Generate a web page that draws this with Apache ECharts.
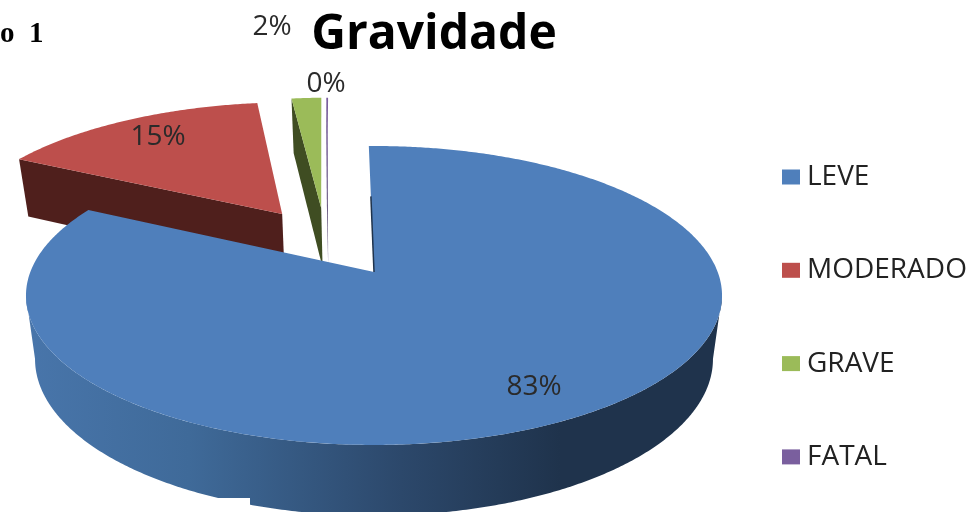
<!DOCTYPE html>
<html>
<head>
<meta charset="utf-8">
<title>Gravidade</title>
<script src="https://cdn.jsdelivr.net/npm/echarts@6/dist/echarts.min.js"></script>
<style>
  html, body { margin: 0; padding: 0; background: #fff; }
  #chart { width: 971px; height: 512px; }
</style>
</head>
<body>
<div id="chart"></div>
<script>
const categories = ['LEVE', 'MODERADO', 'GRAVE', 'FATAL'];
const values = [82.8, 15.4, 1.7, 0.1];
const percentLabels = ['83%', '15%', '2%', '0%'];

const topColors = ['#4f7fbb', '#bd4f4c', '#9bbb59', '#7a5f9e'];
const wallColors = ['#1f334c', '#4f1f1c', '#3f4d22', '#5b4a75'];

// layout of the tilted pie
const CX = 374, CY = 272;
const SCALE_X = 343.7, SCALE_Y = 145.8, PERSPECTIVE = 0.157;
const START_ANGLE = -1;
const BASE_SHRINK = 0.974;
const explodeX = [0, -0.285, -0.165, -0.147];
const explodeY = [0, 0.425, 0.4715, 0.4715];
const labelPos = [[534, 387], [158, 137], [272, 27], [326, 84]];

const total = values.reduce((a, b) => a + b, 0);

// flat pie coordinates -> top face pixels
function project(x, y) {
  const w = 1 + PERSPECTIVE * y;
  return [CX + SCALE_X * x / w, CY - SCALE_Y * y / w];
}

// top face pixel -> bottom face pixel of the extrusion
function dropDown(p) {
  return [CX + (p[0] - CX) * BASE_SHRINK, 359 + (p[1] - 295.4) * 1.047];
}

function sliceRange(i) {
  let before = 0;
  for (let k = 0; k < i; k++) before += values[k];
  const a0 = START_ANGLE + before / total * 360;
  return [a0, a0 + values[i] / total * 360];
}

function rimPoint(i, deg) {
  const r = deg * Math.PI / 180;
  return project(explodeX[i] + Math.sin(r), explodeY[i] + Math.cos(r));
}

function arcPoints(i, a0, a1) {
  const pts = [];
  const steps = Math.max(2, Math.ceil((a1 - a0) * 2));
  for (let s = 0; s <= steps; s++) pts.push(rimPoint(i, a0 + (a1 - a0) * s / steps));
  return pts;
}

function polygon(points, fill) {
  return { type: 'polygon', shape: { points }, style: { fill }, silent: true };
}

function renderSlice(params) {
  const i = params.seriesIndex;
  const range = sliceRange(i);
  const apex = project(explodeX[i], explodeY[i]);
  const rim = arcPoints(i, range[0], range[1]);
  const children = [];

  if (i === 0) {
    // curved outer wall, only between the widest points of the ellipse
    const side = Math.acos(-PERSPECTIVE) * 180 / Math.PI;
    const front = arcPoints(0, side, 360 - side);
    const wallFill = {
      type: 'linear', global: true, x: 30, y: 0, x2: 560, y2: 0,
      colorStops: [
        { offset: 0, color: '#4875aa' },
        { offset: 0.3, color: '#3f6a99' },
        { offset: 0.7, color: '#2c486b' },
        { offset: 1, color: wallColors[0] }
      ]
    };
    children.push(polygon(front.concat(front.map(dropDown).reverse()), wallFill));
  } else {
    // flat wall on the cut edge of the exploded slices
    const edge = [rim[0], apex];
    children.push(polygon(edge.concat(edge.map(dropDown).reverse()), wallColors[i]));
  }
  children.push(polygon(rim.concat([apex]), topColors[i]));
  if (i === 0) {
    // thin dark edge at the inner cut of the big slice
    children.push({
      type: 'line', silent: true,
      shape: {
        x1: apex[0], y1: apex[1],
        x2: apex[0] + (rim[0][0] - apex[0]) * 0.6, y2: apex[1] + (rim[0][1] - apex[1]) * 0.6
      },
      style: { stroke: wallColors[0], lineWidth: 1.5 }
    });
  }
  children.push({
    type: 'text', silent: true,
    style: {
      x: labelPos[i][0], y: labelPos[i][1],
      text: percentLabels[i], align: 'center', verticalAlign: 'middle',
      font: '28px "Open Sans"', fill: '#2a2a2a'
    }
  });
  return { type: 'group', children };
}

const chart = echarts.init(document.getElementById('chart'));

chart.setOption({
  animation: false,
  title: [
    {
      text: 'Gravidade', left: 429, top: 30, textAlign: 'center', textVerticalAlign: 'middle',
      textStyle: { fontFamily: 'Open Sans', fontWeight: 'bold', fontSize: 48, color: '#000' }
    },
    {
      text: 'o', left: -5, top: 30, textVerticalAlign: 'middle',
      textStyle: { fontFamily: 'Liberation Serif', fontWeight: 'bold', fontSize: 29, color: '#000' }
    },
    {
      text: '1', left: 24, top: 30, textVerticalAlign: 'middle',
      textStyle: { fontFamily: 'Liberation Serif', fontWeight: 'bold', fontSize: 29, color: '#000' }
    }
  ],
  legend: {
    orient: 'vertical', left: 777, top: 158, itemGap: 65.3,
    itemWidth: 18, itemHeight: 15, icon: 'rect',
    data: categories,
    textStyle: { fontFamily: 'Open Sans', fontSize: 28, color: '#222', padding: [0, 0, 0, 2] }
  },
  graphic: [
    { type: 'rect', z: 100, silent: true, shape: { x: 0, y: 498, width: 250, height: 14 }, style: { fill: '#fff' } }
  ],
  series: categories.map((name, i) => ({
    type: 'custom',
    name,
    coordinateSystem: 'none',
    z: [5, 4, 3, 2][i],
    itemStyle: { color: topColors[i] },
    data: [[values[i]]],
    renderItem: renderSlice
  }))
});
</script>
</body>
</html>
